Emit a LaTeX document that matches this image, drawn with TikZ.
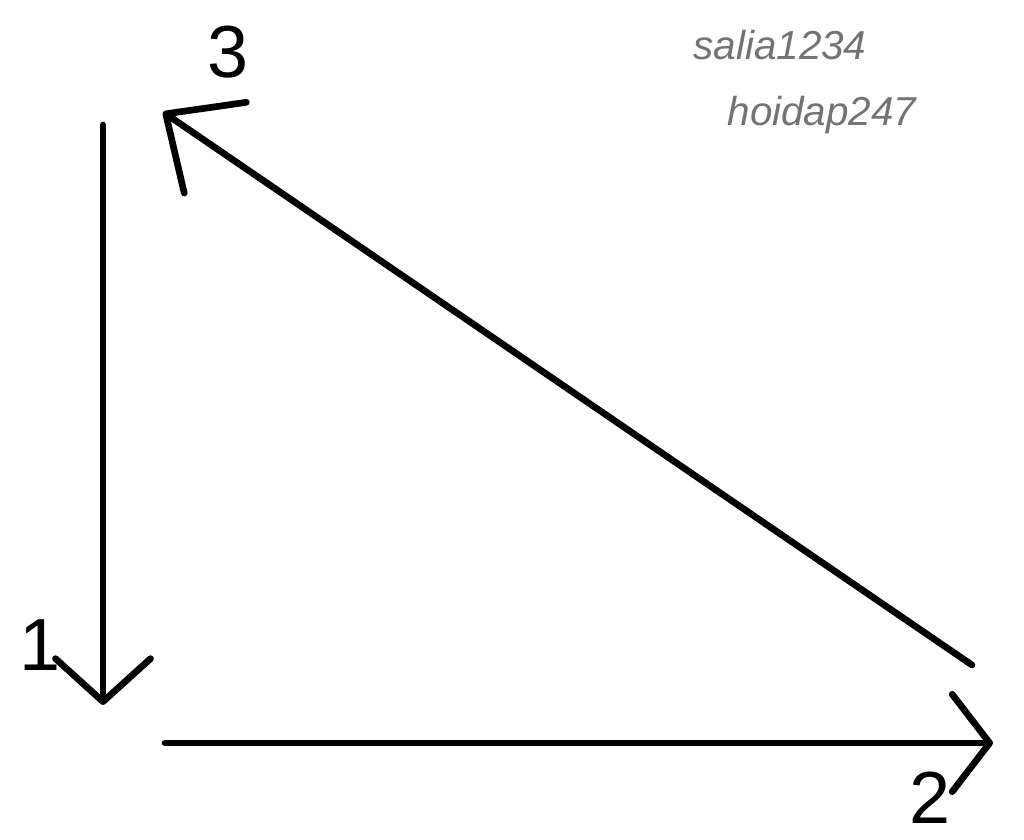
\documentclass[tikz,border=0pt]{standalone}
\usepackage{fontspec}
\setmainfont{Liberation Sans}
\usetikzlibrary{arrows.meta}
\begin{document}
\begin{tikzpicture}
\useasboundingbox (0,0) rectangle (20.48,16.8);
\tikzset{
  vec/.style={line width=3.8pt, line cap=round, line join=round},
  num/.style={inner sep=0pt, font=\fontsize{42}{42}\selectfont},
  wm/.style={inner sep=0pt, text=black!55, font=\fontsize{23}{23}\selectfont\itshape}
}
\coordinate (a1s) at (2.06,14.3);
\coordinate (a1e) at (2.06,2.7);
\coordinate (a2s) at (3.3,1.94);
\coordinate (a2e) at (19.86,1.94);
\coordinate (a3s) at (19.44,3.5);
\coordinate (a3e) at (3.26,14.56);
\draw[vec, -{Straight Barb[length=0.86cm, width=1.9cm, line cap=round, line join=round]}] (a1s) -- (a1e);
\draw[vec, -{Straight Barb[length=0.75cm, width=1.95cm, line cap=round, line join=round]}] (a2s) -- (a2e);
\draw[vec, -{Straight Barb[length=1.2cm, width=2.2cm, line cap=round, line join=round]}] (a3s) -- (a3e);
\node[num] (n1) at (0.8,3.9) {1};
\node[num] (n2) at (18.6,0.84) {2};
\node[num] (n3) at (4.56,15.76) {3};
\node[wm] (w1) at (15.6,15.9) {salia1234};
\node[wm] (w2) at (16.44,14.5) {hoidap247};
\end{tikzpicture}
\end{document}
